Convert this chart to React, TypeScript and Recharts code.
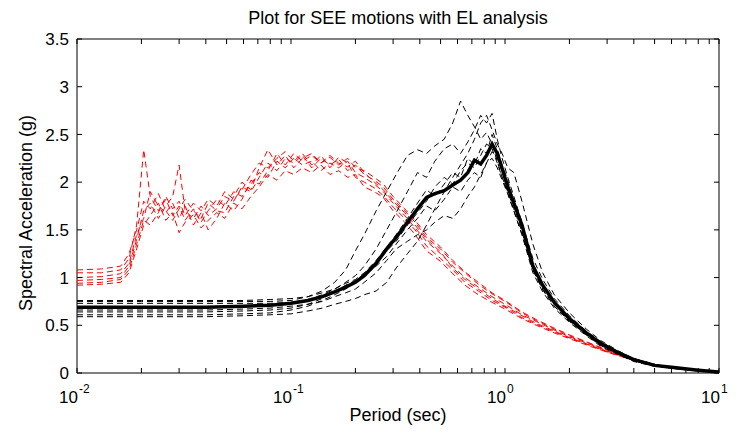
import React from 'react';
import { LineChart, Line, XAxis, YAxis, ReferenceArea } from 'recharts';

// periods (sec) for the red (EL) records
const redPeriods = [0.01, 0.013, 0.016, 0.0175, 0.019, 0.0205, 0.022, 0.024, 0.026, 0.028, 0.03, 0.032, 0.035, 0.038, 0.041, 0.045, 0.049, 0.054, 0.059, 0.065, 0.071, 0.078, 0.086, 0.094, 0.103, 0.113, 0.125, 0.138, 0.152, 0.167, 0.184, 0.2, 0.22, 0.245, 0.27, 0.3, 0.34, 0.38, 0.43, 0.5, 0.57, 0.65, 0.75, 0.87, 1, 1.2, 1.4, 1.7, 2, 2.5, 3, 4, 5, 6.5, 8, 10];

const red1 = [1.05, 1.05, 1.08, 1.2, 1.55, 2.34, 1.85, 1.7, 1.82, 1.65, 1.75, 1.6, 1.72, 1.58, 1.7, 1.82, 1.75, 1.9, 1.85, 1.98, 2.1, 2.05, 2.22, 2.15, 2.25, 2.18, 2.22, 2.12, 2.2, 2.15, 2.22, 2.1, 2.05, 1.98, 1.9, 1.78, 1.65, 1.52, 1.38, 1.25, 1.12, 1.0, 0.9, 0.8, 0.72, 0.61, 0.54, 0.45, 0.38, 0.3, 0.23, 0.14, 0.085, 0.045, 0.025, 0.01];
const red2 = [0.97, 0.98, 1.0, 1.12, 1.4, 1.7, 1.78, 1.62, 1.75, 1.85, 2.18, 1.7, 1.62, 1.75, 1.65, 1.72, 1.85, 1.8, 1.95, 1.9, 2.05, 2.2, 2.12, 2.25, 2.2, 2.28, 2.15, 2.25, 2.18, 2.24, 2.12, 2.18, 2.08, 2.02, 1.95, 1.82, 1.7, 1.58, 1.42, 1.3, 1.16, 1.05, 0.93, 0.83, 0.75, 0.63, 0.55, 0.46, 0.39, 0.31, 0.24, 0.15, 0.09, 0.05, 0.025, 0.01];
const red3 = [0.92, 0.93, 0.95, 1.05, 1.3, 1.55, 1.65, 1.78, 1.6, 1.68, 1.47, 1.58, 1.66, 1.52, 1.6, 1.68, 1.62, 1.78, 1.72, 1.85, 1.95, 2.08, 2.02, 2.12, 2.08, 2.15, 2.1, 2.18, 2.08, 2.12, 2.05, 2.08, 1.95, 1.9, 1.84, 1.7, 1.58, 1.45, 1.28, 1.17, 1.04, 0.92, 0.82, 0.74, 0.67, 0.57, 0.5, 0.42, 0.36, 0.28, 0.22, 0.13, 0.08, 0.045, 0.022, 0.01];
const red4 = [1.0, 1.01, 1.04, 1.15, 1.45, 1.62, 1.9, 1.75, 1.68, 1.78, 1.62, 1.75, 1.55, 1.68, 1.5, 1.62, 1.78, 1.7, 1.82, 2.02, 1.98, 2.12, 2.3, 2.18, 2.3, 2.22, 2.28, 2.2, 2.26, 2.18, 2.25, 2.15, 2.12, 2.05, 1.98, 1.85, 1.72, 1.6, 1.45, 1.32, 1.18, 1.06, 0.95, 0.84, 0.76, 0.64, 0.56, 0.47, 0.4, 0.31, 0.24, 0.15, 0.09, 0.05, 0.028, 0.012];
const red5 = [1.08, 1.09, 1.12, 1.25, 1.5, 1.8, 1.72, 1.88, 1.7, 1.6, 1.72, 1.82, 1.7, 1.62, 1.78, 1.7, 1.68, 1.85, 2.0, 1.92, 2.15, 2.34, 2.18, 2.28, 2.15, 2.25, 2.3, 2.2, 2.28, 2.2, 2.16, 2.22, 2.1, 2.0, 1.92, 1.8, 1.68, 1.55, 1.4, 1.27, 1.1, 0.98, 0.88, 0.78, 0.7, 0.6, 0.52, 0.44, 0.37, 0.29, 0.225, 0.135, 0.08, 0.045, 0.024, 0.01];
const red6 = [0.94, 0.95, 0.98, 1.08, 1.35, 1.6, 1.55, 1.68, 1.85, 1.72, 1.8, 1.65, 1.78, 1.7, 1.82, 1.75, 1.9, 1.82, 1.92, 2.08, 2.2, 2.15, 2.25, 2.32, 2.22, 2.3, 2.18, 2.28, 2.15, 2.26, 2.2, 2.05, 2.0, 1.94, 1.86, 1.74, 1.62, 1.5, 1.33, 1.2, 1.08, 0.95, 0.86, 0.76, 0.69, 0.58, 0.51, 0.43, 0.37, 0.29, 0.22, 0.135, 0.08, 0.045, 0.024, 0.01];

// periods (sec) for the black records and their mean
const blackPeriods = [0.01, 0.02, 0.04, 0.06, 0.08, 0.1, 0.12, 0.14, 0.16, 0.18, 0.2, 0.22, 0.25, 0.28, 0.31, 0.35, 0.39, 0.43, 0.47, 0.52, 0.57, 0.62, 0.67, 0.72, 0.77, 0.82, 0.87, 0.92, 0.97, 1.03, 1.1, 1.2, 1.35, 1.5, 1.7, 2, 2.4, 2.8, 3.4, 4, 5, 6, 8, 10];

const black1 = [0.75, 0.75, 0.75, 0.75, 0.75, 0.76, 0.80, 0.86, 0.95, 1.08, 1.28, 1.45, 1.70, 1.90, 2.08, 2.28, 2.34, 2.30, 2.38, 2.45, 2.62, 2.85, 2.70, 2.58, 2.45, 2.52, 2.40, 2.22, 2.05, 1.88, 1.70, 1.45, 1.10, 0.90, 0.72, 0.56, 0.41, 0.30, 0.20, 0.13, 0.08, 0.05, 0.03, 0.01];
const black2 = [0.76, 0.76, 0.76, 0.76, 0.77, 0.78, 0.80, 0.84, 0.88, 0.95, 1.02, 1.12, 1.30, 1.50, 1.68, 1.90, 2.10, 2.05, 2.22, 2.35, 2.40, 2.30, 2.42, 2.55, 2.70, 2.62, 2.72, 2.45, 2.25, 2.05, 1.85, 1.58, 1.20, 0.98, 0.78, 0.60, 0.44, 0.33, 0.22, 0.15, 0.09, 0.06, 0.03, 0.015];
const black3 = [0.73, 0.73, 0.73, 0.73, 0.73, 0.74, 0.77, 0.82, 0.88, 0.94, 0.98, 1.05, 1.18, 1.32, 1.45, 1.62, 1.78, 1.92, 1.85, 1.98, 2.10, 2.05, 2.25, 2.18, 2.35, 2.30, 2.50, 2.35, 2.18, 2.02, 1.80, 1.55, 1.15, 0.93, 0.75, 0.58, 0.43, 0.31, 0.21, 0.14, 0.08, 0.06, 0.03, 0.01];
const black4 = [0.66, 0.66, 0.66, 0.67, 0.68, 0.70, 0.72, 0.75, 0.80, 0.84, 0.88, 0.95, 1.05, 1.18, 1.30, 1.38, 1.45, 1.50, 1.58, 1.65, 1.62, 1.72, 1.85, 1.95, 2.08, 2.20, 2.32, 2.25, 2.12, 1.98, 1.78, 1.50, 1.08, 0.88, 0.70, 0.54, 0.40, 0.29, 0.20, 0.13, 0.08, 0.05, 0.025, 0.01];
const black5 = [0.59, 0.59, 0.59, 0.60, 0.61, 0.62, 0.65, 0.68, 0.72, 0.75, 0.78, 0.82, 0.86, 0.95, 1.10, 1.25, 1.38, 1.55, 1.72, 1.90, 2.05, 2.18, 2.30, 2.45, 2.62, 2.70, 2.55, 2.40, 2.30, 2.15, 2.10, 1.80, 1.35, 1.05, 0.82, 0.63, 0.46, 0.34, 0.23, 0.15, 0.09, 0.06, 0.03, 0.015];
const black6 = [0.64, 0.64, 0.64, 0.65, 0.66, 0.68, 0.72, 0.78, 0.85, 0.92, 0.97, 1.04, 1.15, 1.28, 1.38, 1.55, 1.68, 1.80, 1.95, 2.05, 1.98, 2.12, 2.20, 2.15, 2.28, 2.40, 2.35, 2.20, 2.05, 1.90, 1.72, 1.48, 1.08, 0.87, 0.70, 0.55, 0.40, 0.29, 0.20, 0.13, 0.08, 0.05, 0.025, 0.01];
const black7 = [0.61, 0.61, 0.61, 0.62, 0.63, 0.66, 0.70, 0.76, 0.82, 0.88, 0.95, 1.02, 1.12, 1.22, 1.35, 1.50, 1.62, 1.75, 1.70, 1.82, 1.95, 1.90, 2.02, 2.10, 2.05, 2.20, 2.25, 2.15, 2.02, 1.88, 1.70, 1.45, 1.05, 0.85, 0.68, 0.53, 0.39, 0.28, 0.19, 0.12, 0.07, 0.05, 0.02, 0.01];
const blackMean = [0.69, 0.69, 0.69, 0.70, 0.71, 0.73, 0.76, 0.80, 0.85, 0.90, 0.95, 1.02, 1.15, 1.30, 1.42, 1.58, 1.72, 1.84, 1.88, 1.91, 1.97, 2.02, 2.10, 2.23, 2.19, 2.28, 2.40, 2.30, 2.14, 1.95, 1.78, 1.55, 1.12, 0.92, 0.74, 0.57, 0.42, 0.31, 0.21, 0.14, 0.08, 0.06, 0.03, 0.01];

// axis ticks
const xMajor = [0.01, 0.1, 1, 10];
const xExp = ['-2', '-1', '0', '1'];
const xTicks = [0.01, 0.02, 0.03, 0.04, 0.05, 0.06, 0.07, 0.08, 0.09, 0.1, 0.2, 0.3, 0.4, 0.5, 0.6, 0.7, 0.8, 0.9, 1, 2, 3, 4, 5, 6, 7, 8, 9, 10];
const yTicks = [0, 0.5, 1, 1.5, 2, 2.5, 3, 3.5];

const W = 744;
const H = 436;
const LEFT = 77;
const TOP = 39;
const RIGHT = 719;
const BOTTOM = 373;
const FONT = '"Liberation Sans", Arial, Helvetica, sans-serif';

const pts = (xs: number[], ys: number[]) => xs.map((x, i) => ({ x, y: ys[i] }));

const redSeries = [red1, red2, red3, red4, red5, red6];
const blackSeries = [black1, black2, black3, black4, black5, black6, black7];

const XTick = (props: any) => {
  const { x, y, payload } = props;
  const idx = xMajor.indexOf(payload.value);
  return (
    <g>
      <line x1={x} x2={x} y1={y} y2={y - 5} stroke="#000" />
      <line x1={x} x2={x} y1={TOP} y2={TOP + 5} stroke="#000" />
      {idx >= 0 && (
        <g fontFamily={FONT} fill="#000">
          <text x={x + 1} y={y + 30} textAnchor="end" fontSize={17}>10</text>
          <text x={x + 2} y={y + 20} textAnchor="start" fontSize={12}>{xExp[idx]}</text>
        </g>
      )}
    </g>
  );
};

const YTick = (props: any) => {
  const { x, y, payload } = props;
  return (
    <g>
      <line x1={x} x2={x + 5} y1={y} y2={y} stroke="#000" />
      <line x1={RIGHT} x2={RIGHT - 5} y1={y} y2={y} stroke="#000" />
      <text x={x - 8} y={y} dy="0.36em" textAnchor="end" fontSize={17} fontFamily={FONT} fill="#000">
        {String(payload.value)}
      </text>
    </g>
  );
};

export default function App() {
  return (
    <div style={{ position: 'absolute', left: 0, top: 0, width: W, height: H, background: '#fff' }}>
      <LineChart width={W} height={H} margin={{ top: TOP, right: W - RIGHT, bottom: 0, left: 0 }}>
        <XAxis
          dataKey="x"
          type="number"
          scale="log"
          domain={[0.01, 10]}
          allowDataOverflow
          ticks={xTicks}
          interval={0}
          height={H - BOTTOM}
          tickSize={0}
          tickMargin={0}
          axisLine={false}
          tickLine={false}
          tick={(p: any) => <XTick {...p} />}
        />
        <YAxis
          type="number"
          domain={[0, 3.5]}
          ticks={yTicks}
          interval={0}
          width={LEFT}
          tickSize={0}
          tickMargin={0}
          axisLine={false}
          tickLine={false}
          tick={(p: any) => <YTick {...p} />}
        />
        {redSeries.map((s, i) => (
          <Line
            key={'r' + i}
            data={pts(redPeriods, s)}
            dataKey="y"
            stroke="#ff0000"
            strokeWidth={1}
            strokeDasharray="6 4"
            dot={false}
            activeDot={false}
            isAnimationActive={false}
          />
        ))}
        {blackSeries.map((s, i) => (
          <Line
            key={'b' + i}
            data={pts(blackPeriods, s)}
            dataKey="y"
            stroke="#000"
            strokeWidth={1}
            strokeDasharray="6 4"
            dot={false}
            activeDot={false}
            isAnimationActive={false}
          />
        ))}
        <Line
          data={pts(blackPeriods, blackMean)}
          dataKey="y"
          stroke="#000"
          strokeWidth={3.5}
          dot={false}
          activeDot={false}
          isAnimationActive={false}
        />
        <ReferenceArea x1={0.01} x2={10} y1={0} y2={3.5} fill="none" stroke="#000" strokeWidth={1} />
      </LineChart>
      <svg width={W} height={H} style={{ position: 'absolute', left: 0, top: 0, pointerEvents: 'none' }}>
        <g fontFamily={FONT} fill="#000" fontSize={18}>
          <text x={(LEFT + RIGHT) / 2} y={24} textAnchor="middle">Plot for SEE motions with EL analysis</text>
          <text x={(LEFT + RIGHT) / 2} y={421} textAnchor="middle">Period (sec)</text>
          <text transform="translate(32, 213) rotate(-90)" textAnchor="middle">Spectral Acceleration (g)</text>
        </g>
      </svg>
    </div>
  );
}
